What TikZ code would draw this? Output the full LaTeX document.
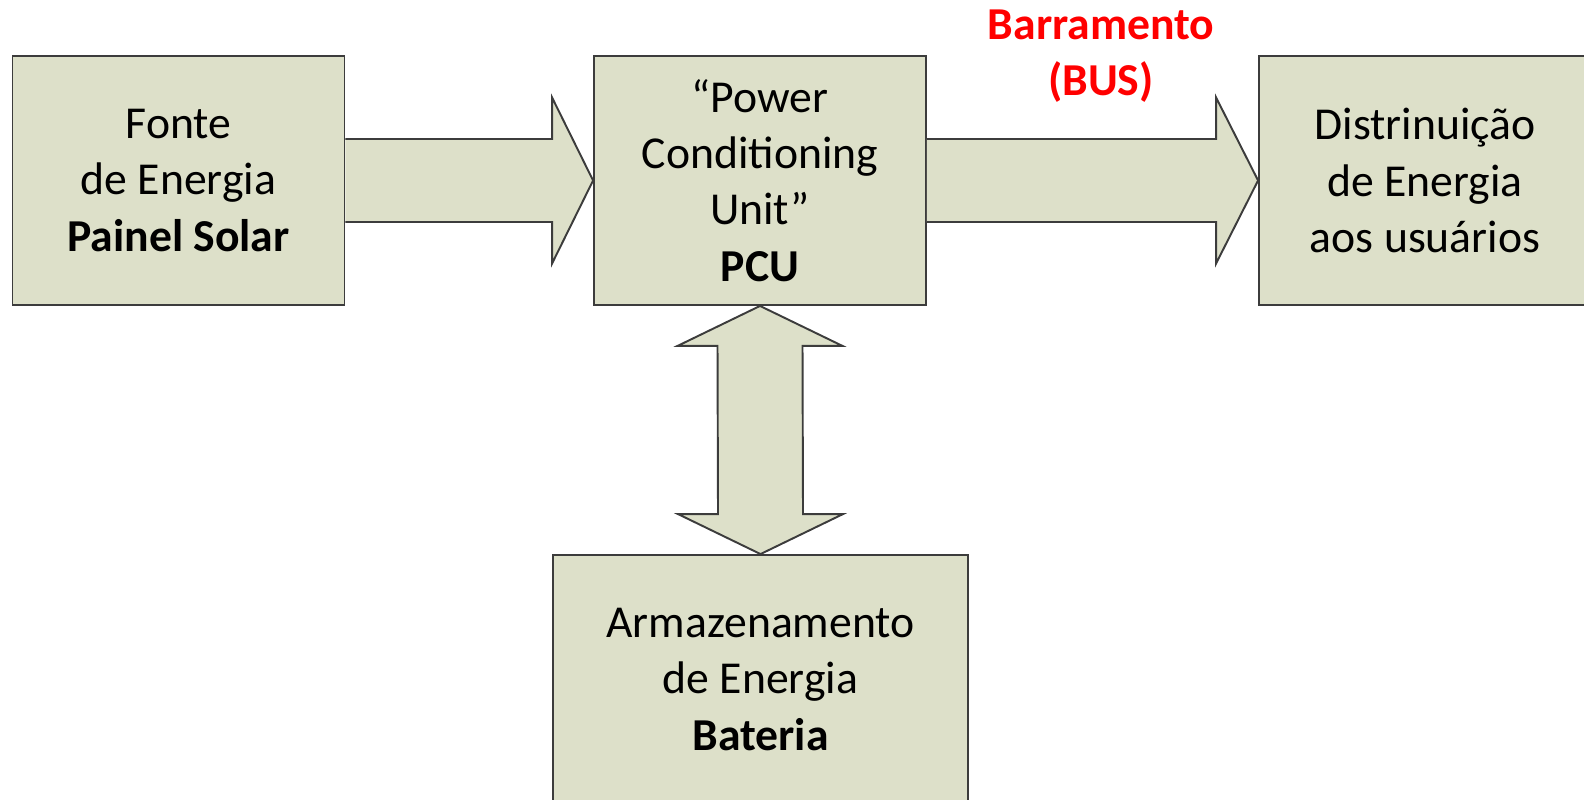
\documentclass[tikz,border=0pt]{standalone}
\usepackage{fontspec}
\setmainfont{Carlito}
\usepackage{xcolor}
\usetikzlibrary{positioning, calc}

\definecolor{boxfill}{RGB}{221,224,201}
\definecolor{boxline}{RGB}{60,60,60}
\definecolor{busred}{RGB}{255,0,0}

\tikzset{
  bloco/.style={draw=boxline, fill=boxfill, line width=1.1pt, inner sep=0pt,
    minimum width=6.64cm, minimum height=4.98cm, align=center,
    font=\fontsize{26}{32}\selectfont},
  seta/.style={draw=boxline, fill=boxfill, line width=1.1pt, line join=miter}
}

\begin{document}
\begin{tikzpicture}[x=0.02cm, y=0.02cm]
  \useasboundingbox (0,0) rectangle (1584,799);

  % Blocos
  \node[bloco] (fonte) at (178.5,618.5) {Fonte\\de Energia\\\textbf{Painel Solar}};
  \node[bloco] (pcu) at (760,618.5) {“Power\\Conditioning\\Unit”\\\textbf{PCU}};
  \node[bloco] (dist) at (1425,618.5) {Distrinuição\\de Energia\\aos usuários};
  \node[bloco, minimum width=8.3cm] (bat) at (760.5,119.5) {Armazenamento\\de Energia\\\textbf{Bateria}};

  % Rotulo do barramento
  \node[align=center, text=busred, font=\fontsize{26}{32}\selectfont\bfseries] (bus) at (1101,743) {Barramento\\(BUS)};

  % Setas largas
  \draw[seta] ($(fonte.east)+(0,41.5)$) -- ($(pcu.west)+(-41,41.5)$) -- ($(pcu.west)+(-41,83)$)
    -- (pcu.west) -- ($(pcu.west)+(-41,-83)$) -- ($(pcu.west)+(-41,-41.5)$) -- ($(fonte.east)+(0,-41.5)$);
  \draw[seta] ($(pcu.east)+(0,41.5)$) -- ($(dist.west)+(-42,41.5)$) -- ($(dist.west)+(-42,83)$)
    -- (dist.west) -- ($(dist.west)+(-42,-83)$) -- ($(dist.west)+(-42,-41.5)$) -- ($(pcu.east)+(0,-41.5)$);

  % Seta dupla PCU <-> Bateria
  \draw[seta] (pcu.south) -- ($(pcu.south)+(82.5,-40)$) -- ($(pcu.south)+(42.5,-40)$)
    -- ($(bat.north)+(42.5,40)$) -- ($(bat.north)+(82.5,40)$) -- (bat.north)
    -- ($(bat.north)+(-82.5,40)$) -- ($(bat.north)+(-42.5,40)$)
    -- ($(pcu.south)+(-42.5,-40)$) -- ($(pcu.south)+(-82.5,-40)$) -- cycle;
\end{tikzpicture}
\end{document}
